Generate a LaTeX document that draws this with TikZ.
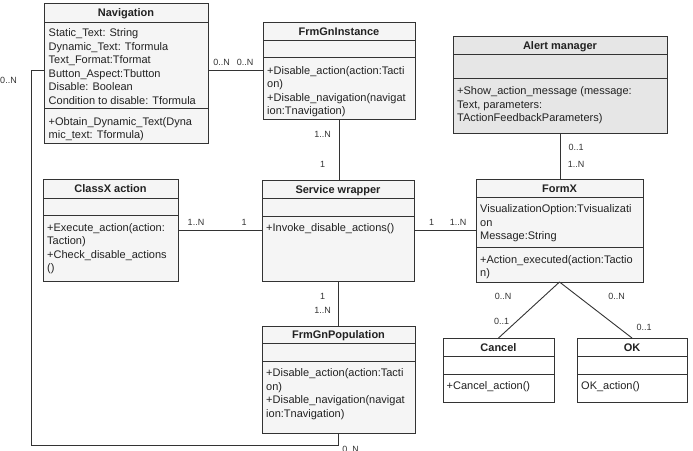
\documentclass[tikz,border=0pt]{standalone}
\usepackage{fontspec}
\setmainfont{Liberation Sans}
\definecolor{boxfill}{HTML}{F5F5F5}
\definecolor{alertfill}{HTML}{E6E6E6}
\definecolor{linecol}{HTML}{333333}
\definecolor{textcol}{HTML}{222222}
\definecolor{labelcol}{HTML}{333333}
\newcommand\txtlines[1]{\begin{tabular}[t]{@{}l@{}}#1\end{tabular}}
\tikzset{
  classbox/.style={draw=linecol, line width=0.9pt, inner sep=0pt, outer sep=0pt},
  divline/.style={draw=linecol, line width=0.9pt},
  titletext/.style={font=\bfseries\fontsize{11}{13}\selectfont, text=textcol, text height=8pt, text depth=0pt, inner sep=0pt},
  bodytext/.style={font=\fontsize{11}{13.5}\selectfont, text=textcol, anchor=base west, inner sep=0pt},
  assoc/.style={draw=linecol, line width=0.9pt},
  mult/.style={font=\fontsize{9}{10}\selectfont, text=labelcol, inner sep=0pt}
}
\newcommand\umlclass[8]{%
  \pgfmathsetmacro\clw{#4-#2}\pgfmathsetmacro\clh{#5-#3}%
  \node[classbox, fill=#8, minimum width=\clw pt, minimum height=\clh pt, anchor=north west] (#1) at (#2,#3) {};
  \draw[divline] (#2,#6) -- (#4,#6);
  \draw[divline] (#2,#7) -- (#4,#7);
}
\begin{document}
\begin{tikzpicture}[x=1pt,y=-1pt]
\useasboundingbox (0,0) rectangle (693,450);

% classes
\umlclass{nav}{44}{3}{208}{143}{22}{108}{boxfill}
\node[titletext] (nav-t) at (126,12.5) {Navigation};
\node[bodytext] (nav-a) at (48.5,36.5) {\txtlines{Static\_Text: String\\Dynamic\_Text: Tformula\\Text\_Format:Tformat\\Button\_Aspect:Tbutton\\Disable: Boolean\\Condition to disable: Tformula}};
\node[bodytext] (nav-m) at (48.5,125) {\txtlines{+Obtain\_Dynamic\_Text(Dyna\\mic\_text: Tformula)}};

\umlclass{inst}{263}{22}{415}{119}{40}{57}{boxfill}
\node[titletext] (inst-t) at (339,31) {FrmGnInstance};
\node[bodytext] (inst-m) at (267,74) {\txtlines{+Disable\_action(action:Tacti\\on)\\+Disable\_navigation(navigat\\ion:Tnavigation)}};

\umlclass{alert}{453}{36}{667}{133}{54}{78}{alertfill}
\node[titletext] (alert-t) at (560,45) {Alert manager};
\node[bodytext] (alert-m) at (457,94.5) {\txtlines{+Show\_action\_message (message:\\Text, parameters:\\TActionFeedbackParameters)}};

\umlclass{classx}{43}{179}{178}{281}{198}{215}{boxfill}
\node[titletext] (classx-t) at (110.5,188.5) {ClassX action};
\node[bodytext] (classx-m) at (47,231) {\txtlines{+Execute\_action(action:\\Taction)\\+Check\_disable\_actions\\()}};

\umlclass{serv}{262}{180}{414}{281}{198}{216}{boxfill}
\node[titletext] (serv-t) at (338,189) {Service wrapper};
\node[bodytext] (serv-m) at (266,231.5) {+Invoke\_disable\_actions()};

\umlclass{formx}{476}{179}{643}{282}{197}{247}{boxfill}
\node[titletext] (formx-t) at (559.5,188) {FormX};
\node[bodytext] (formx-a) at (480,212.5) {\txtlines{VisualizationOption:Tvisualizati\\on\\Message:String}};
\node[bodytext] (formx-m) at (480,263) {\txtlines{+Action\_executed(action:Tactio\\n)}};

\umlclass{pop}{262}{326}{415}{433}{343}{361}{boxfill}
\node[titletext] (pop-t) at (338.5,334.5) {FrmGnPopulation};
\node[bodytext] (pop-m) at (266,376.5) {\txtlines{+Disable\_action(action:Tacti\\on)\\+Disable\_navigation(navigat\\ion:Tnavigation)}};

\umlclass{cancel}{443}{338}{554}{402}{356}{374}{white}
\node[titletext] (cancel-t) at (498.5,347) {Cancel};
\node[bodytext] (cancel-m) at (446.5,389.5) {+Cancel\_action()};

\umlclass{ok}{577}{338}{687}{402}{356}{374}{white}
\node[titletext] (ok-t) at (632,347) {OK};
\node[bodytext] (ok-m) at (581,389.5) {OK\_action()};

% connectors
\coordinate (loop) at (31,445.5);
\draw[assoc] (nav.east |- inst.west) -- (inst.west);
\draw[assoc] (nav.west |- inst.west) -| (loop) -| (pop.south);
\draw[assoc] (inst.south) -- (inst.south |- serv.north);
\draw[assoc] (classx.east) -- (classx.east -| serv.west);
\draw[assoc] (serv.east) -- (serv.east -| formx.west);
\draw[assoc] (serv.south) -- (serv.south |- pop.north);
\draw[assoc] (alert.south) -- (alert.south |- formx.north);
\draw[assoc] (formx.south) -- (cancel.north);
\draw[assoc] (formx.south) -- (ok.north);

% multiplicities
\node[mult] (m1) at (221.7,62.7) {0..N};
\node[mult] (m2) at (245,62.7) {0..N};
\node[mult] (m3) at (8.5,80) {0..N};
\node[mult] (m4) at (350.5,449.5) {0..N};
\node[mult] (m5) at (322.5,134) {1..N};
\node[mult] (m6) at (322.5,164) {1};
\node[mult] (m7) at (196,222.7) {1..N};
\node[mult] (m8) at (244,222.7) {1};
\node[mult] (m9) at (431.7,222.5) {1};
\node[mult] (m10) at (458,222.5) {1..N};
\node[mult] (m11) at (322.5,296) {1};
\node[mult] (m12) at (322.5,310) {1..N};
\node[mult] (m13) at (576,147.7) {0..1};
\node[mult] (m14) at (576,164.3) {1..N};
\node[mult] (m15) at (503,296) {0..N};
\node[mult] (m16) at (616.7,296) {0..N};
\node[mult] (m17) at (501.7,321.7) {0..1};
\node[mult] (m18) at (644,327.3) {0..1};
\end{tikzpicture}
\end{document}
